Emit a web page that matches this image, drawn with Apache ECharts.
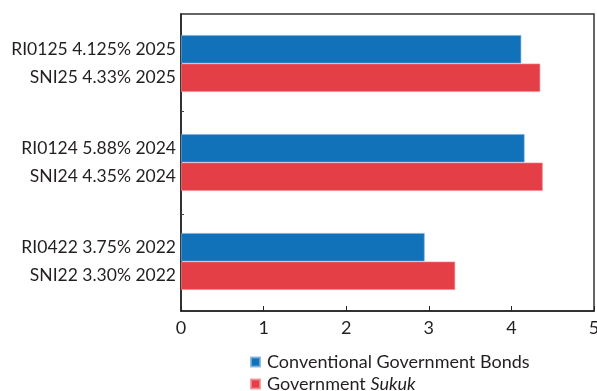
<!DOCTYPE html>
<html>
<head>
<meta charset="utf-8">
<script src="https://cdn.jsdelivr.net/npm/echarts@6/dist/echarts.min.js"></script>
<style>
  html, body { margin: 0; padding: 0; background: #fff; }
  #chart { width: 597px; height: 391px; }
</style>
</head>
<body>
<div id="chart"></div>
<script>
// Issue groups, top to bottom
const groups = ['2025', '2024', '2022'];
// Bar names shown beside each bar
const bondNames = ['RI0125 4.125% 2025', 'RI0124 5.88% 2024', 'RI0422 3.75% 2022'];
const sukukNames = ['SNI25 4.33% 2025', 'SNI24 4.35% 2024', 'SNI22 3.30% 2022'];
// Series values
const bondValues = [4.12, 4.16, 2.95];
const sukukValues = [4.35, 4.38, 3.32];
// Legend entries
const seriesNames = ['Conventional Government Bonds', 'Government Sukuk'];
// Value axis range
const xMin = 0, xMax = 5, xStep = 1;
// Separator ticks between the groups (in group units from the top)
const groupSeparators = [0.98, 2.02];

const FONT = 'Lato';
const TEXT = '#231f20';

const chart = echarts.init(document.getElementById('chart'), null, { renderer: 'canvas' });

function barLabel(names) {
  return {
    show: true,
    position: 'left',
    distance: 5,
    color: TEXT,
    fontFamily: FONT,
    fontSize: 17.5,
    formatter: p => names[p.dataIndex]
  };
}

chart.setOption({
  animation: false,
  backgroundColor: '#fff',
  grid: {
    left: 181, right: 3, top: 14, bottom: 80,
    outerBoundsMode: 'none',
    containLabel: false,
    show: true, borderColor: '#333', borderWidth: 1.5, backgroundColor: 'transparent'
  },
  xAxis: {
    type: 'value',
    min: xMin, max: xMax, interval: xStep,
    axisLine: { show: true, onZero: false, lineStyle: { color: '#222', width: 1.5 } },
    axisTick: { show: true, inside: true, length: 5, lineStyle: { color: '#222', width: 1 } },
    axisLabel: { color: TEXT, fontFamily: FONT, fontSize: 18, margin: 8 },
    splitLine: { show: false }
  },
  yAxis: [
    {
      type: 'category',
      inverse: true,
      data: groups,
      axisLine: { show: true, onZero: false, lineStyle: { color: '#222', width: 1.5 } },
      axisTick: { show: false },
      axisLabel: { show: false }
    },
    {
      // carries only the short separator ticks between groups
      type: 'value',
      position: 'left',
      inverse: true,
      min: 0, max: groups.length,
      axisLine: { show: false, onZero: false },
      axisTick: { show: true, inside: true, length: 3, customValues: groupSeparators, lineStyle: { color: '#444' } },
      axisLabel: { show: false },
      splitLine: { show: false }
    }
  ],
  legend: {
    orient: 'vertical',
    left: 245, top: 348,
    height: 44,
    itemWidth: 9, itemHeight: 9, itemGap: 4,
    icon: 'rect',
    textStyle: {
      color: TEXT, fontFamily: FONT, fontSize: 18,
      padding: [0, 0, 0, 2],
      rich: { i: { fontStyle: 'italic', fontFamily: FONT, fontSize: 18, color: TEXT } }
    },
    formatter: name => name === seriesNames[1] ? 'Government {i|Sukuk}' : name,
    data: seriesNames
  },
  series: [
    {
      name: seriesNames[0], type: 'bar', data: bondValues,
      barWidth: 28.5, barGap: 0,
      itemStyle: { color: '#1172ba', borderColor: 'rgba(120,175,220,0.8)', borderWidth: 0.8 },
      label: barLabel(bondNames)
    },
    {
      name: seriesNames[1], type: 'bar', data: sukukValues,
      barWidth: 28.5, barGap: 0,
      itemStyle: { color: '#e43e47', borderColor: 'rgba(240,140,145,0.8)', borderWidth: 0.8 },
      label: barLabel(sukukNames)
    }
  ]
});
</script>
</body>
</html>
